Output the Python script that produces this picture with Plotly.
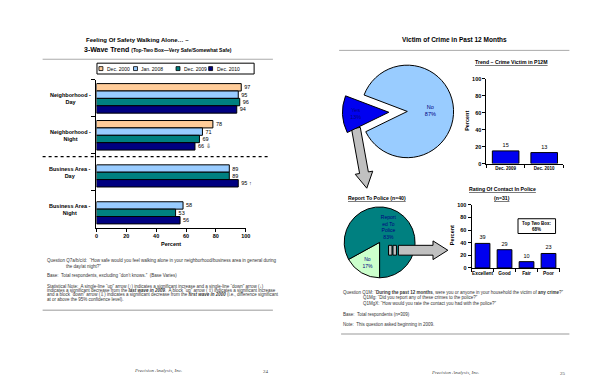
import plotly.graph_objects as go

W, H = 600, 388
FONT = "Liberation Sans, Arial, sans-serif"
SERIF = "Liberation Serif, Times New Roman, serif"


def X(px):
    return px / W


def Y(py):
    return 1 - py / H


# ---------------- data ----------------
safety_categories = ["Neighborhood - Day", "Neighborhood - Night",
                     "Business Area - Day", "Business Area - Night"]
safety_waves = ["Dec. 2000", "Jan. 2008", "Dec. 2009", "Dec. 2010"]
safety_dec2000 = [97, 78, None, None]
safety_jan2008 = [95, 71, 89, 58]
safety_dec2009 = [96, 69, 89, 53]
safety_dec2010 = [94, 66, 95, 56]
safety_dec2010_flags = ["", " \u21e9", " \u2191", ""]
percent_ticks = [0, 20, 40, 60, 80, 100]

victim_labels = ["Yes", "No"]
victim_values = [13, 87]

trend_years = ["Dec. 2009", "Dec. 2010"]
trend_values = [15, 13]

report_labels = ["No", "Reported To Police"]
report_text = ["No", "Report<br>ed To<br>Police"]
report_values = [17, 83]

rating_categories = ["Excellent", "Good", "Fair", "Poor"]
rating_values = [39, 29, 10, 23]
top_two_box = 68

wave_colors = ["#FFCC99", "#99CCFF", "#008080", "#000080"]
BLUE = "#0000F0"

fig = go.Figure()

# ---------------- left: horizontal grouped bars ----------------
series = [safety_dec2000, safety_jan2008, safety_dec2009, safety_dec2010]
for i, (name, vals, col) in enumerate(zip(safety_waves, series, wave_colors)):
    texts = ["" if v is None else str(v) for v in vals]
    if i == 3:
        texts = [t + f for t, f in zip(texts, safety_dec2010_flags)]
    fig.add_trace(go.Bar(
        y=safety_categories, x=vals, orientation="h", name=name,
        marker=dict(color=col, line=dict(color="black", width=1)),
        text=texts, textposition="outside", constraintext="none",
        textfont=dict(size=5.5, color="black", family=FONT),
        cliponaxis=False, showlegend=False,
        xaxis="x", yaxis="y"))

# ---------------- right top: trend bars ----------------
fig.add_trace(go.Bar(
    x=trend_years, y=trend_values, width=0.69,
    marker=dict(color=BLUE, line=dict(color="black", width=1)),
    text=[str(v) for v in trend_values], textposition="outside",
    constraintext="none", textfont=dict(size=5.5, color="black", family=FONT),
    cliponaxis=False, showlegend=False, xaxis="x2", yaxis="y2"))

# ---------------- right bottom: rating bars ----------------
fig.add_trace(go.Bar(
    x=rating_categories, y=rating_values, width=0.67,
    marker=dict(color=BLUE, line=dict(color="black", width=1)),
    text=[str(v) for v in rating_values], textposition="outside",
    constraintext="none", textfont=dict(size=5.5, color="black", family=FONT),
    cliponaxis=False, showlegend=False, xaxis="x3", yaxis="y3"))

# ---------------- pies ----------------
pull = 0.4
r1 = 47
c1 = (402, 102)
half1 = r1 * (1 + pull)
fig.add_trace(go.Pie(
    labels=victim_labels, values=victim_values, sort=False,
    direction="clockwise", rotation=-116, pull=[pull, 0],
    marker=dict(colors=[BLUE, "#99CCFF"], line=dict(color="black", width=1)),
    texttemplate="%{label}<br>%{percent:.0%}", textposition="inside",
    textfont=dict(size=5.5, color="#000080", family=FONT),
    domain=dict(x=[X(c1[0] - half1), X(c1[0] + half1)],
                y=[Y(c1[1] + half1), Y(c1[1] - half1)]),
    showlegend=False))

r2 = 36
c2 = (374, 235)
fig.add_trace(go.Pie(
    labels=report_labels, values=report_values, sort=False,
    direction="clockwise", rotation=180, text=report_text,
    marker=dict(colors=["#CCFFCC", "#008080"], line=dict(color="black", width=1)),
    texttemplate="%{text}<br>%{percent:.0%}", textposition="inside",
    textfont=dict(size=5, color="#000080", family=FONT),
    domain=dict(x=[X(c2[0] - r2), X(c2[0] + r2)],
                y=[Y(c2[1] + r2), Y(c2[1] - r2)]),
    showlegend=False))

# ---------------- axes ----------------
axis_common = dict(showline=True, linecolor="black", linewidth=1, showgrid=False,
                   zeroline=False, ticks="outside", tickcolor="black",
                   fixedrange=True)
fig.update_layout(
    xaxis=dict(domain=[X(87.5), X(238.5)], range=[0, 100], anchor="y",
               tickvals=percent_ticks, ticklen=3,
               tickfont=dict(size=5.5, family=FONT, weight="bold"), **axis_common),
    yaxis=dict(domain=[Y(220), Y(70)], type="category",
               categoryarray=safety_categories, autorange="reversed",
               anchor="x", tickson="boundaries", ticklen=4,
               showticklabels=False, **axis_common),
    xaxis2=dict(domain=[X(482), X(560)], anchor="y2", type="category",
                tickson="boundaries", ticklen=3, tickangle=0,
                tickfont=dict(size=4.5, family=FONT, weight="bold"), **axis_common),
    yaxis2=dict(domain=[Y(155), Y(69)], range=[0, 100], anchor="x2",
                tickvals=percent_ticks, ticklen=3,
                tickfont=dict(size=5.5, family=FONT, weight="bold"), **axis_common),
    xaxis3=dict(domain=[X(467), X(556)], anchor="y3", type="category",
                tickson="boundaries", ticklen=3, tickangle=0,
                tickfont=dict(size=4.8, family=FONT, weight="bold"), **axis_common),
    yaxis3=dict(domain=[Y(261), Y(197)], range=[0, 100], anchor="x3",
                tickvals=percent_ticks, ticklen=3,
                tickfont=dict(size=5.5, family=FONT, weight="bold"), **axis_common),
)

# ---------------- annotations ----------------
anns = []


def text(px, py, s, size=4.5, anchor="left", color="#333333", family=FONT,
         bold=False, italic=False, angle=0):
    anns.append(dict(x=X(px), y=Y(py), xref="paper", yref="paper", text=s,
                     showarrow=False, xanchor=anchor, yanchor="middle",
                     align=anchor, textangle=angle,
                     font=dict(size=size, color=color, family=family,
                               weight="bold" if bold else "normal",
                               style="italic" if italic else "normal")))


# left titles
text(129, 29, "Feeling Of Safety Walking Alone\u2026 \u2013", size=6, anchor="center",
     color="black", bold=True)
anns.append(dict(x=X(150), y=Y(39), xref="paper", yref="paper", showarrow=False,
                 xanchor="center", yanchor="middle",
                 text="<b><span style='font-size:7px'>3-Wave Trend</span> "
                      "<span style='font-size:5px'>(Top-Two Box\u2014Very Safe/Somewhat Safe)</span></b>",
                 font=dict(size=7, color="black", family=FONT)))

# category labels
for cat in safety_categories:
    lab = cat.replace(" - ", " -<br>")
    anns.append(dict(x=X(61), y=cat, xref="paper", yref="y", text=lab,
                     showarrow=False, xanchor="center", yanchor="middle",
                     align="center",
                     font=dict(size=5.5, color="black", family=FONT, weight="bold")))

text(163, 237, "Percent", size=5.5, anchor="center", color="black", bold=True)

# legend (manual)
leg_sq = [90, 125, 168, 201]
leg_tx = [96, 131, 174, 207]
for tx, name in zip(leg_tx, safety_waves):
    text(tx, 58.5, name, size=5, color="black")

# left notes
text(35, 253, "Question Q7a/b/c/d:  \u201cHow safe would you feel walking alone in your "
     "neighborhood/business area in general during")
text(55, 260, "the day/at night?\u201d")
text(35, 269, "Base:  Total respondents, excluding \u201cdon\u2019t knows.\u201d  (Base Varies)")
text(35, 280, "Statistical Note:  A single-line \u201cup\u201d arrow (\u2191) indicates a significant "
     "increase and a single-line \u201cdown\u201d arrow (\u2193)")
text(35, 284.2, "indicates a significant decrease from the <b><i>last wave in 2009</i></b>.  "
     "A block \u201cup\u201d arrow (\u21e7) indicates a significant increase")
text(35, 288.4, "and a block \u201cdown\u201d arrow (\u21e9) indicates a significant decrease from "
     "the <b><i>first wave in 2000</i></b> (i.e., difference significant")
text(35, 292.6, "at or above the 95% confidence level).")

# right titles
text(450, 29, "Victim of Crime in Past 12 Months", size=6.5, anchor="center",
     color="black", bold=True)
text(507, 52, "<u>Trend \u2013 Crime Victim in P12M</u>", size=5.2, anchor="center",
     color="black", bold=True)
text(463, 112, "Percent", size=5.5, anchor="center", color="black", bold=True, angle=-90)
text(371, 190, "<u>Report To Police (n=40)</u>", size=5.2, anchor="center",
     color="black", bold=True)
text(498, 181, "<u>Rating Of Contact In Police</u>", size=5.2, anchor="center",
     color="black", bold=True)
text(498, 189.5, "<u>(n=31)</u>", size=5.2, anchor="center", color="black", bold=True)
text(448, 228, "Percent", size=5.5, anchor="center", color="black", bold=True, angle=-90)
text(533, 218.5, f"Top Two Box:<br>{top_two_box}%", size=4.5, anchor="center",
     color="black", bold=True)

# right notes
text(335, 285.7, "Question Q1M: \u201c<b>During the past 12 months</b>, were you or anyone in "
     "your household the victim of <b>any crime</b>?\u201d")
text(355, 291.2, "Q1Mg: \u201cDid you report any of these crimes to the police?\u201d")
text(355, 296.7, "Q1MgX: \u201cHow would you rate the contact you had with the police?\u201d")
text(335, 308, "Base:  Total respondents (n=309)")
text(335, 318, "Note:  This question asked beginning in 2009.")

# footers
text(150, 366, "Precision Analysis, Inc.", size=5, anchor="center", color="#444444",
     family=SERIF, italic=True)
text(264, 366, "24", size=5, anchor="right", color="#444444", family=SERIF)
text(450, 368, "Precision Analysis, Inc.", size=5, anchor="center", color="#444444",
     family=SERIF, italic=True)
text(565, 368, "25", size=5, anchor="right", color="#444444", family=SERIF)

# ---------------- shapes ----------------
shapes = []


def line(x0, y0, x1, y1, color="#AAAAAA", width=1, dash="solid"):
    shapes.append(dict(type="line", xref="paper", yref="paper",
                       x0=X(x0), y0=Y(y0), x1=X(x1), y1=Y(y1),
                       line=dict(color=color, width=width, dash=dash)))


def rect(x0, y0, x1, y1, fill="white", color="black", width=1, layer="above"):
    shapes.append(dict(type="rect", xref="paper", yref="paper", layer=layer,
                       x0=X(x0), y0=Y(y0), x1=X(x1), y1=Y(y1),
                       fillcolor=fill, line=dict(color=color, width=width)))


def poly(points, fill="#C0C0C0", layer="below"):
    path = "M " + " L ".join(f"{X(px):.5f},{Y(py):.5f}" for px, py in points) + " Z"
    shapes.append(dict(type="path", xref="paper", yref="paper", path=path, layer=layer,
                       fillcolor=fill, line=dict(color="black", width=1)))


line(33, 49, 266, 49)
line(33, 148, 263, 148, color="black", width=1.3, dash="dot")
line(33, 304, 266, 304, color="#BBBBBB", width=1.5)
line(333, 40, 566, 40)
line(335, 328, 566, 328, color="#BBBBBB", width=1.5)

# legend box + swatches
rect(88, 53, 247, 64)
for sx, col in zip(leg_sq, wave_colors):
    rect(sx, 56.5, sx + 4, 60.5, fill=col, width=0.8)

# top two box
rect(514, 211, 552, 226)

# arrow from "Yes" slice down to second pie
S = (350.0, 119.0)
T = (361.0, 180.0)
dx, dy = T[0] - S[0], T[1] - S[1]
ln = (dx * dx + dy * dy) ** 0.5
ux, uy = dx / ln, dy / ln
nx, ny = uy, -ux
w, hw, hl = 4.5, 9.0, 16.0
B = (T[0] - hl * ux, T[1] - hl * uy)


def pt(base, t, s):
    return (base[0] + t * ux + s * nx, base[1] + t * uy + s * ny)


poly([pt(S, 0, w), pt(B, 0, w), pt(B, 0, hw), T, pt(B, 0, -hw), pt(B, 0, -w), pt(S, 0, -w)])
for t0, t1 in [(-11, -8), (-6.5, -2)]:
    poly([pt(S, t0, w), pt(S, t1, w), pt(S, t1, -w), pt(S, t0, -w)])

# arrow from second pie to rating chart
rect(383, 238, 386.5, 248, fill="#C0C0C0")
rect(387.5, 238, 391, 248, fill="#C0C0C0")
poly([(393, 238), (428, 238), (428, 233.5), (443, 243), (428, 252.5), (428, 248), (393, 248)],
     layer="above")

fig.update_layout(
    width=W, height=H, margin=dict(l=0, r=0, t=0, b=0),
    paper_bgcolor="white", plot_bgcolor="white",
    barmode="group", bargap=0.2, bargroupgap=0, showlegend=False,
    font=dict(family=FONT, size=5, color="black"),
    annotations=anns, shapes=shapes,
)

fig.write_html("out.html")
